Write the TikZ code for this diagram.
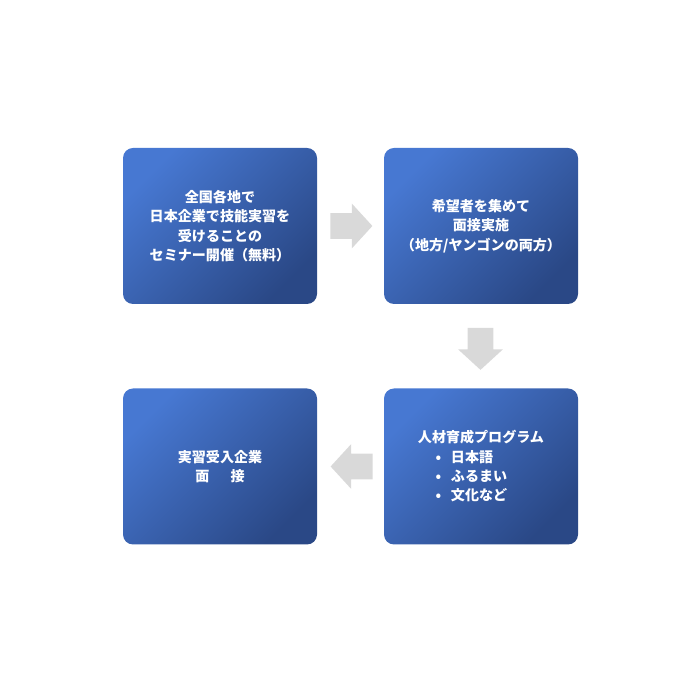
\documentclass[tikz,border=0pt]{standalone}
\usepackage{fontspec}
\setmainfont{Noto Sans CJK JP}
\usetikzlibrary{shapes.arrows}

\begin{document}
\begin{tikzpicture}[
    stagebox/.style={rounded corners=0.2cm, minimum width=3.88cm, minimum height=3.12cm,
        top color=lightblue, middle color=midblue, bottom color=darkblue, shading angle=45,
        text=white, align=center, font=\fontsize{8}{11}\selectfont\bfseries},
    flowarrow/.style={single arrow, fill=arrowgray, inner sep=0.25cm,
        minimum height=0.84cm, single arrow head extend=0.19cm, single arrow tip angle=95}
    ]
    \definecolor{lightblue}{HTML}{4778D2}
    \definecolor{midblue}{HTML}{3B66B8}
    \definecolor{darkblue}{HTML}{2A4886}
    \definecolor{arrowgray}{HTML}{D9D9D9}
    \useasboundingbox (0, 0) rectangle (14, 14);
    % four stages, clockwise
    \node[stagebox] (seminar) at (4.40, 9.48) {全国各地で\\日本企業で技能実習を\\受けることの\\セミナー開催（無料）};
    \node[stagebox] (interview) at (9.62, 9.48) {希望者を集めて\\面接実施\\（地方/ヤンゴンの両方）};
    \node[stagebox, align=left] (training) at (9.62, 4.67) {人材育成プログラム\\\hspace*{1.25em}•\hspace{0.7em}日本語\\\hspace*{1.25em}•\hspace{0.7em}ふるまい\\\hspace*{1.25em}•\hspace{0.7em}文化など};
    \node[stagebox] (company) at (4.40, 4.67) {実習受入企業\\面\hspace{1.5em}接};
    % arrows between the stages
    \node[flowarrow] (toright) at (6.91, 9.48) {};
    \node[flowarrow, shape border rotate=270] (todown) at (9.61, 7.14) {};
    \node[flowarrow, shape border rotate=180] (toleft) at (7.15, 4.67) {};
\end{tikzpicture}
\end{document}
